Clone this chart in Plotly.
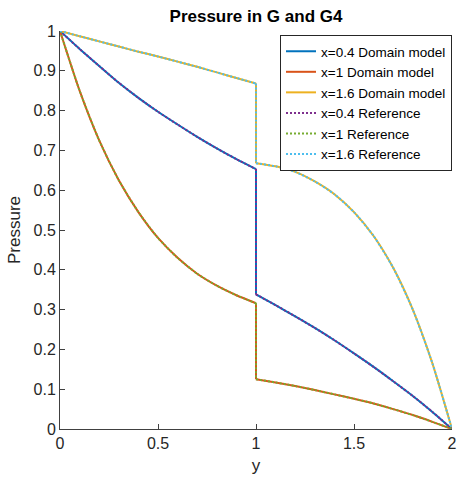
import plotly.graph_objects as go

# Position along the channel, split at the interface y = 1 where pressure jumps
y_left = [0.0, 0.1, 0.2, 0.3, 0.4, 0.5, 0.6, 0.7, 0.8, 0.9, 1.0]
y_right = [1.0, 1.1, 1.2, 1.3, 1.4, 1.5, 1.6, 1.7, 1.8, 1.9, 2.0]

# Domain model pressures on either side of the interface
p_model_x04_left = [1.0, 0.955, 0.912, 0.870, 0.832, 0.797, 0.765, 0.734, 0.705, 0.678, 0.653]
p_model_x04_right = [0.338, 0.311, 0.283, 0.254, 0.223, 0.190, 0.156, 0.120, 0.083, 0.043, 0.0]
p_model_x10_left = [1.0, 0.850, 0.725, 0.625, 0.545, 0.480, 0.430, 0.390, 0.360, 0.336, 0.316]
p_model_x10_right = [0.125, 0.117, 0.108, 0.098, 0.087, 0.076, 0.064, 0.050, 0.035, 0.018, 0.0]
p_model_x16_left = [1.0, 0.987, 0.974, 0.961, 0.948, 0.936, 0.923, 0.910, 0.896, 0.882, 0.868]
p_model_x16_right = [0.668, 0.660, 0.646, 0.622, 0.590, 0.545, 0.485, 0.405, 0.300, 0.165, 0.0]

# Reference solution pressures (coincide with the domain model)
p_ref_x04_left, p_ref_x04_right = list(p_model_x04_left), list(p_model_x04_right)
p_ref_x10_left, p_ref_x10_right = list(p_model_x10_left), list(p_model_x10_right)
p_ref_x16_left, p_ref_x16_right = list(p_model_x16_left), list(p_model_x16_right)

x_ticks = [0, 0.5, 1, 1.5, 2]
x_tick_text = ["0", "0.5", "1", "1.5", "2"]
y_ticks = [0, 0.1, 0.2, 0.3, 0.4, 0.5, 0.6, 0.7, 0.8, 0.9, 1]
y_tick_text = ["0", "0.1", "0.2", "0.3", "0.4", "0.5", "0.6", "0.7", "0.8", "0.9", "1"]

series = [
    ("x=0.4 Domain model", p_model_x04_left, p_model_x04_right, "#0072BD", "solid"),
    ("x=1 Domain model", p_model_x10_left, p_model_x10_right, "#D95319", "solid"),
    ("x=1.6 Domain model", p_model_x16_left, p_model_x16_right, "#EDB120", "solid"),
    ("x=0.4 Reference", p_ref_x04_left, p_ref_x04_right, "#7E2F8E", "2px,2px"),
    ("x=1 Reference", p_ref_x10_left, p_ref_x10_right, "#77AC30", "2px,2px"),
    ("x=1.6 Reference", p_ref_x16_left, p_ref_x16_right, "#4DBEEE", "2px,2px"),
]

fig = go.Figure()
for name, left, right, color, dash in series:
    # smooth curve before the interface
    fig.add_trace(go.Scatter(
        x=y_left, y=left, mode="lines", name=name, legendgroup=name,
        line=dict(color=color, width=2, dash=dash, shape="spline", smoothing=0.6),
    ))
    # vertical jump at the interface
    fig.add_trace(go.Scatter(
        x=[y_left[-1], y_right[0]], y=[left[-1], right[0]], mode="lines",
        name=name, legendgroup=name, showlegend=False,
        line=dict(color=color, width=2, dash=dash),
    ))
    # smooth curve after the interface
    fig.add_trace(go.Scatter(
        x=y_right, y=right, mode="lines", name=name, legendgroup=name, showlegend=False,
        line=dict(color=color, width=2, dash=dash, shape="spline", smoothing=0.6),
    ))

axis_color = "#404040"
font_family = "Liberation Sans, Arial, sans-serif"

fig.update_layout(
    width=464, height=479,
    margin=dict(l=60, r=7, t=31, b=50),
    paper_bgcolor="white", plot_bgcolor="white",
    font=dict(family=font_family, size=16, color="#262626"),
    title=dict(text="<b>Pressure in G and G4</b>", x=0.5, xref="paper", xanchor="center",
               y=1 - 16 / 479, yanchor="middle", font=dict(size=17, color="#000000")),
    showlegend=True,
    legend=dict(x=1.0, xanchor="right", y=0.99, yanchor="top",
                bgcolor="white", bordercolor="#262626", borderwidth=1,
                font=dict(size=13.5, color="#000000"),
                itemwidth=30, tracegroupgap=0),
)

fig.update_xaxes(
    range=[0, 2], tickvals=x_ticks, ticktext=x_tick_text,
    showline=True, linecolor=axis_color, linewidth=1,
    ticks="inside", ticklen=5, tickcolor=axis_color,
    showgrid=False, zeroline=False,
    title=dict(text="y", font=dict(size=17), standoff=7),
)
fig.update_yaxes(
    range=[0, 1], tickvals=y_ticks, ticktext=y_tick_text,
    showline=True, linecolor=axis_color, linewidth=1,
    ticks="inside", ticklen=5, tickcolor=axis_color,
    showgrid=False, zeroline=False,
    title=dict(text="Pressure", font=dict(size=17), standoff=8),
)

fig.write_html("out.html")
